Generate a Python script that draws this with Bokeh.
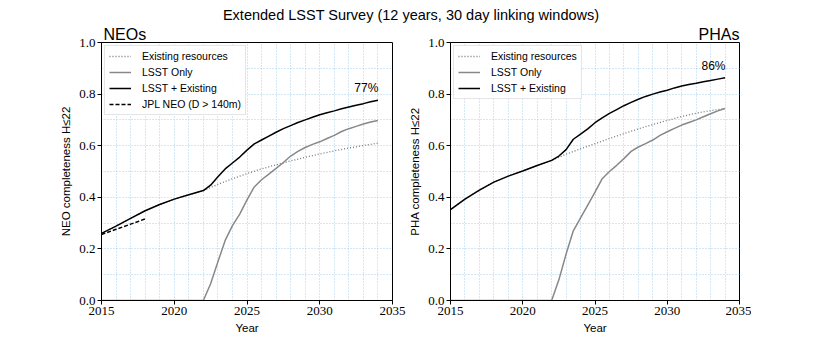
from bokeh.plotting import figure
from bokeh.models import (Div, Label, Legend, LegendItem, FixedTicker,
                          PrintfTickFormatter, Range1d)
from bokeh.layouts import column, row
from bokeh.embed import file_html
from bokeh.resources import INLINE

# ---------------- data ----------------
title_text = "Extended LSST Survey (12 years, 30 day linking windows)"

years_annual = [2015, 2016, 2017, 2018, 2019, 2020, 2021, 2022, 2023, 2024,
                2025, 2026, 2027, 2028, 2029, 2030, 2031, 2032, 2033, 2034]
years_pre = [2015, 2016, 2017, 2018, 2019, 2020, 2021, 2022]
years_post = [2022.5, 2023, 2023.5, 2024, 2024.5, 2025, 2025.5, 2026, 2026.5,
              2027, 2027.5, 2028, 2028.5, 2029, 2029.5, 2030, 2030.5, 2031,
              2031.5, 2032, 2032.5, 2033, 2033.5, 2034]
years_lsst_start = [2015, 2022]

# NEOs
neo_existing = [0.260, 0.288, 0.318, 0.348, 0.372, 0.393, 0.410, 0.426, 0.450, 0.472,
                0.492, 0.510, 0.526, 0.541, 0.555, 0.568, 0.580, 0.591, 0.601, 0.610]
neo_combined_pre = [0.260, 0.288, 0.318, 0.348, 0.372, 0.393, 0.410, 0.426]
neo_combined_post = [0.447, 0.480, 0.510, 0.533, 0.556, 0.583, 0.607, 0.622, 0.637,
                     0.652, 0.666, 0.678, 0.690, 0.700, 0.710, 0.720, 0.728, 0.735,
                     0.743, 0.750, 0.757, 0.763, 0.770, 0.776]
neo_lsst_start = [0.0, 0.0]
neo_lsst_post = [0.065, 0.150, 0.233, 0.290, 0.335, 0.390, 0.440, 0.468, 0.490,
                 0.512, 0.535, 0.560, 0.578, 0.593, 0.605, 0.615, 0.628, 0.640,
                 0.655, 0.666, 0.675, 0.684, 0.692, 0.698]
jpl_years = [2015, 2016, 2017, 2018]
jpl_neo = [0.256, 0.276, 0.296, 0.316]

# PHAs
pha_existing = [0.352, 0.393, 0.428, 0.459, 0.482, 0.502, 0.523, 0.543, 0.567, 0.588,
                0.608, 0.628, 0.647, 0.665, 0.682, 0.698, 0.713, 0.726, 0.736, 0.744]
pha_combined_pre = [0.352, 0.393, 0.428, 0.459, 0.482, 0.502, 0.523, 0.543]
pha_combined_post = [0.560, 0.585, 0.625, 0.645, 0.665, 0.689, 0.708, 0.725, 0.740,
                     0.755, 0.768, 0.780, 0.791, 0.800, 0.808, 0.815, 0.824, 0.831,
                     0.837, 0.842, 0.848, 0.853, 0.858, 0.863]
pha_lsst_start = [0.0, 0.0]
pha_lsst_post = [0.080, 0.180, 0.270, 0.320, 0.370, 0.420, 0.472, 0.500, 0.524,
                 0.550, 0.578, 0.595, 0.608, 0.622, 0.640, 0.654, 0.667, 0.680,
                 0.690, 0.700, 0.712, 0.724, 0.735, 0.744]

x_ticks = [2015, 2020, 2025, 2030, 2035]
y_ticks = [0.0, 0.2, 0.4, 0.6, 0.8, 1.0]
x_grid = list(range(2015, 2036))
y_grid = [0.0, 0.1, 0.2, 0.3, 0.4, 0.5, 0.6, 0.7, 0.8, 0.9, 1.0]

SANS = "Liberation Sans"
SERIF = "Liberation Serif"


def make_panel(name, align, ylabel, left_border, right_border, fw):
    p = figure(frame_width=fw, frame_height=258,
               x_range=Range1d(2015, 2035), y_range=Range1d(0, 1),
               output_backend="svg", toolbar_location=None,
               min_border_left=left_border, min_border_right=right_border,
               min_border_top=20, min_border_bottom=35)
    p.title.text = name
    p.title.align = align
    p.title.text_font = SANS
    p.title.text_font_size = "16px"
    p.title.text_font_style = "normal"
    p.title.text_color = "black"
    p.title.standoff = 0
    p.title.offset = 2 if align == "left" else 0
    p.background_fill_color = "white"
    p.border_fill_color = "white"
    p.outline_line_color = "black"
    p.outline_line_width = 1
    p.xaxis.ticker = FixedTicker(ticks=x_ticks)
    p.yaxis.ticker = FixedTicker(ticks=y_ticks)
    p.xaxis.formatter = PrintfTickFormatter(format="%d")
    p.yaxis.formatter = PrintfTickFormatter(format="%.1f")
    p.xgrid.ticker = FixedTicker(ticks=x_grid)
    p.ygrid.ticker = FixedTicker(ticks=y_grid)
    for g in (p.xgrid, p.ygrid):
        g.grid_line_color = "#a9cfe9"
        g.grid_line_dash = "1 2"
        g.grid_line_width = 1
    for ax in (p.xaxis, p.yaxis):
        ax.axis_line_color = "black"
        ax.major_tick_line_color = "black"
        ax.major_tick_out = 4
        ax.major_tick_in = 0
        ax.minor_tick_line_color = None
        ax.major_label_text_font = SERIF
        ax.major_label_text_font_size = "13px"
        ax.major_label_text_color = "black"
        ax.major_label_standoff = 2
        ax.axis_label_text_font = SANS
        ax.axis_label_text_font_size = "11.5px"
        ax.axis_label_text_font_style = "normal"
        ax.axis_label_text_color = "black"
        ax.axis_label_standoff = 4
    p.xaxis.axis_label = "Year"
    p.yaxis.axis_label = ylabel
    return p


def draw_series(p, existing, comb_pre, comb_post, lsst_start, lsst_post):
    r_ex = p.line(years_annual, existing, line_color="#777777", line_width=1.3,
                  line_dash="1 2")
    r_lo = p.line(years_lsst_start + years_post, lsst_start + lsst_post,
                  line_color="#888888", line_width=1.5)
    r_co = p.line(years_pre + years_post, comb_pre + comb_post,
                  line_color="black", line_width=1.5)
    return r_ex, r_lo, r_co


def style_legend(leg):
    leg.location = "top_left"
    leg.margin = 3
    leg.padding = 4
    leg.spacing = 4
    leg.glyph_width = 22
    leg.glyph_height = 12
    leg.label_height = 12
    leg.label_standoff = 11
    leg.label_text_font = SANS
    leg.label_text_font_size = "10.5px"
    leg.label_text_color = "black"
    leg.border_line_color = "#cccccc"
    leg.border_line_width = 1
    leg.background_fill_color = "white"
    leg.background_fill_alpha = 0.9


# ---------------- NEO panel ----------------
p1 = make_panel("NEOs", "left", "NEO completeness H\u226422", 101, 14, 291)
e1, l1, c1 = draw_series(p1, neo_existing, neo_combined_pre, neo_combined_post,
                         neo_lsst_start, neo_lsst_post)
j1 = p1.line(jpl_years, jpl_neo, line_color="black", line_width=1.5, line_dash="4 2")
leg1 = Legend(items=[LegendItem(label="Existing resources", renderers=[e1]),
                     LegendItem(label="LSST Only", renderers=[l1]),
                     LegendItem(label="LSST + Existing", renderers=[c1]),
                     LegendItem(label="JPL NEO (D > 140m)", renderers=[j1])])
style_legend(leg1)
p1.add_layout(leg1)
p1.add_layout(Label(x=2033.2, y=0.823, text="77%", text_font=SANS,
                    text_font_size="12px", text_color="black",
                    text_baseline="middle", text_align="center"))

# ---------------- PHA panel ----------------
p2 = make_panel("PHAs", "right", "PHA completeness H\u226422", 44, 12, 289)
e2, l2, c2 = draw_series(p2, pha_existing, pha_combined_pre, pha_combined_post,
                         pha_lsst_start, pha_lsst_post)
leg2 = Legend(items=[LegendItem(label="Existing resources", renderers=[e2]),
                     LegendItem(label="LSST Only", renderers=[l2]),
                     LegendItem(label="LSST + Existing", renderers=[c2])])
style_legend(leg2)
p2.add_layout(leg2)
p2.add_layout(Label(x=2033.2, y=0.908, text="86%", text_font=SANS,
                    text_font_size="12px", text_color="black",
                    text_baseline="middle", text_align="center"))

title = Div(text=title_text, width=822, height=22, margin=(0, 0, 0, 0),
            styles={"text-align": "center", "font-family": SANS,
                    "font-size": "14.5px", "line-height": "30px", "color": "black",
                    "width": "822px", "overflow": "visible"})

layout = column(title, row(p1, p2))
open("out.html", "w").write(file_html(layout, INLINE))
